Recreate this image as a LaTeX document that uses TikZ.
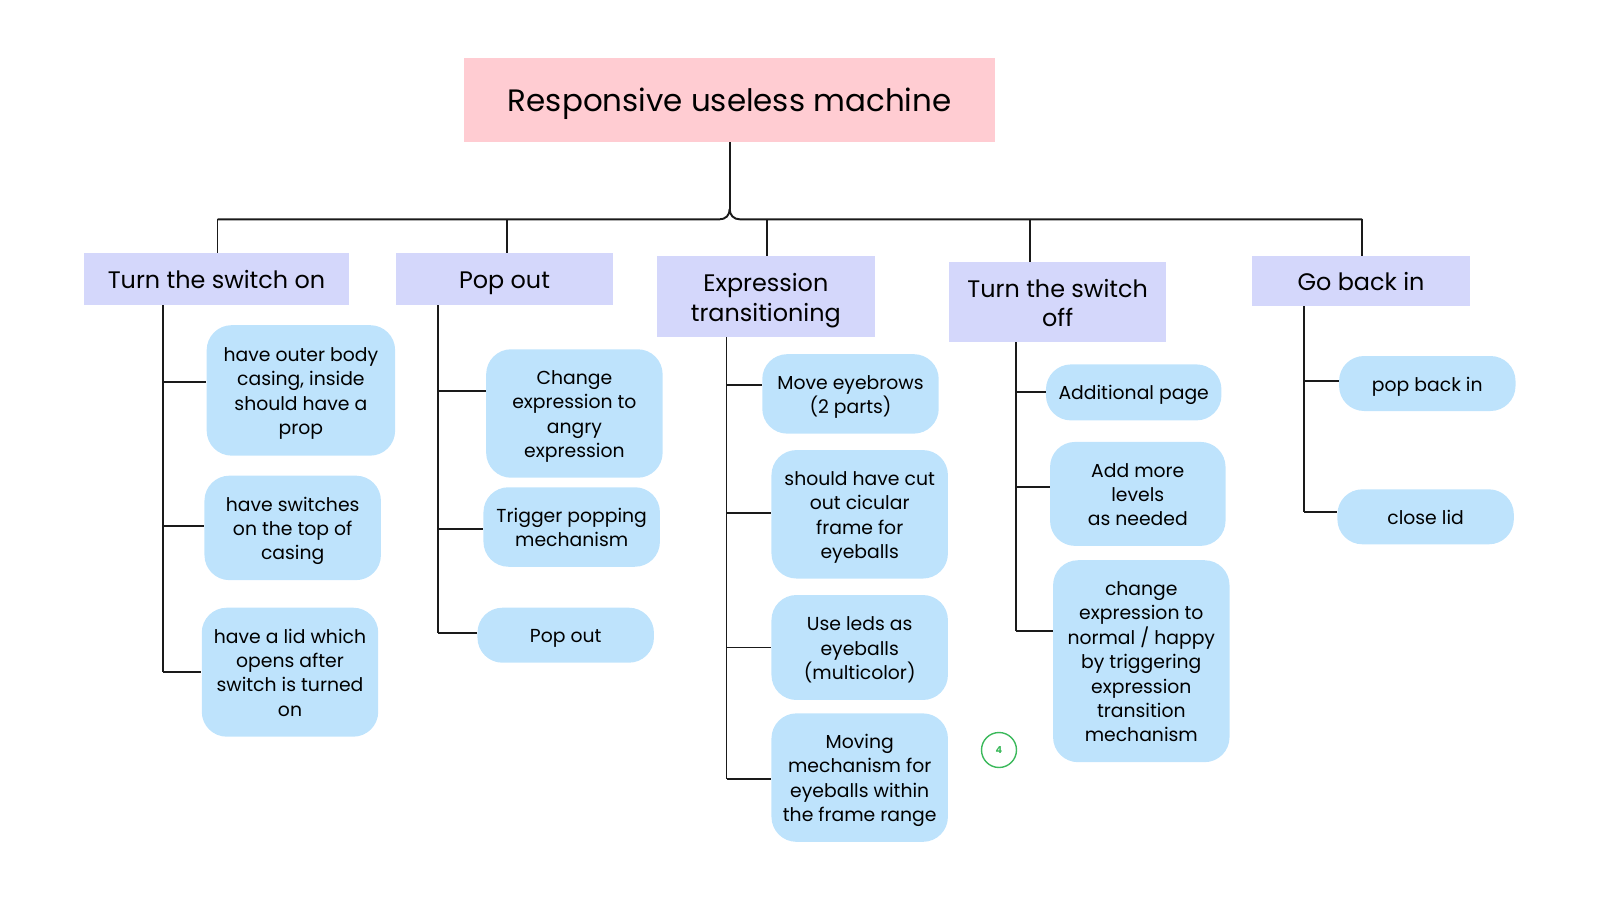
\documentclass[tikz,border=0pt]{standalone}
\usepackage{fontspec}
\setmainfont{Poppins}
\usetikzlibrary{calc}
\definecolor{titlepink}{HTML}{FFCCD2}
\definecolor{headlav}{HTML}{D4D7FB}
\definecolor{childblue}{HTML}{BEE3FC}
\definecolor{markgreen}{HTML}{3CB95C}
\definecolor{linecol}{HTML}{1A1A1A}
\def\tsh{1.12em}
\newcommand\topstr{\rule{0pt}{\tsh}}
\newcommand\botstr{\rule[-0.32em]{0pt}{0pt}}
\begin{document}
\begin{tikzpicture}[x=0.02cm,y=-0.02cm,
  titlebox/.style={fill=titlepink, minimum width=10.62cm, minimum height=1.68cm, inner sep=0, font=\fontsize{17.6}{20}\selectfont,
    execute at begin node={\def\tsh{1.09em}}},
  headbox/.style={fill=headlav, minimum width=4.35cm, inner sep=0, align=center, font=\fontsize{13.6}{16.8}\selectfont,
    execute at begin node={\def\tsh{1.15em}}},
  leafbox/.style={fill=childblue, rounded corners=0.5cm, minimum width=3.53cm, inner sep=0, align=center, font=\fontsize{10.7}{13.9}\selectfont,
    execute at begin node={\def\tsh{1.12em}}},
  link/.style={draw=linecol, line width=1.1pt},
  badge/.style={circle, draw=markgreen, line width=0.8pt, minimum size=0.7cm, inner sep=0, text=markgreen, font=\fontsize{5.5}{6}\selectfont\bfseries}
]
\useasboundingbox (0,0) rectangle (1600,900);

% root
\node[titlebox] (root) at (729.7,100) {\topstr Responsive useless machine\botstr};

% headers
\node[headbox, minimum width=5.3cm, minimum height=1.04cm] (h1) at (216.5,279) {\topstr Turn the switch on\botstr};
\node[headbox, minimum height=1.03cm] (h2) at (504.5,279) {\topstr Pop out\botstr};
\node[headbox, minimum height=1.61cm] (h3) at (765.8,296.4) {\topstr Expression\\transitioning\botstr};
\node[headbox, minimum height=1.59cm] (h4) at (1057.7,302) {\topstr Turn the switch\\off\botstr};
\node[headbox, minimum height=1.0cm] (h5) at (1361,281) {\topstr Go back in\botstr};

% bus
\coordinate (d1) at (217.5,219.4);
\coordinate (d2) at (507.3,219.4);
\coordinate (d3) at (767.3,219.4);
\coordinate (d4) at (1029.6,219.4);
\coordinate (d5) at (1362.2,219.4);
\coordinate (jl) at (719,219.4);
\coordinate (jr) at (740.4,219.4);
\coordinate (jt) at (729.7,209);
\draw[link] (root.south) -- (jt);
\draw[link] (d1) -- (jl) .. controls (726,219.4) and (729.7,215) .. (jt);
\draw[link] (jt) .. controls (729.7,215) and (733.4,219.4) .. (jr) -- (d5);
\foreach \i in {1,...,5} {\draw[link] (d\i) -- (d\i |- h\i.north);}

% leaves column 1
\node[leafbox, minimum width=3.77cm, minimum height=2.61cm] (l11) at (300.9,390.4) {\topstr have outer body\\casing, inside\\should have a\\prop\botstr};
\node[leafbox, minimum height=2.09cm] (l12) at (292.7,527.9) {\topstr have switches\\on the top of\\casing\botstr};
\node[leafbox, minimum height=2.58cm] (l13) at (290,672.2) {\topstr have a lid which\\opens after\\switch is turned\\on\botstr};

% leaves column 2
\node[leafbox, minimum height=2.57cm] (l21) at (574.4,413.5) {\topstr Change\\expression to\\angry\\expression\botstr};
\node[leafbox, minimum height=1.59cm] (l22) at (571.7,527) {\topstr Trigger popping\\mechanism\botstr};
\node[leafbox, minimum height=1.1cm] (l23) at (565.7,635.2) {\topstr Pop out\botstr};

% leaves column 3
\node[leafbox, minimum height=1.59cm] (l31) at (850.5,393.9) {\topstr Move eyebrows\\(2 parts)\botstr};
\node[leafbox, minimum height=2.57cm] (l32) at (859.7,514.3) {\topstr should have cut\\out cicular\\frame for\\eyeballs\botstr};
\node[leafbox, minimum height=2.1cm] (l33) at (859.7,647.5) {\topstr Use leds as\\eyeballs\\(multicolor)\botstr};
\node[leafbox, minimum height=2.57cm] (l34) at (859.7,777.6) {\topstr Moving\\mechanism for\\eyeballs within\\the frame range\botstr};

% leaves column 4
\node[leafbox, minimum width=3.51cm, minimum height=1.12cm] (l41) at (1133.7,392.4) {\topstr Additional page\botstr};
\node[leafbox, minimum width=3.51cm, minimum height=2.08cm] (l42) at (1137.8,493.9) {\topstr Add more\\levels\\as needed\botstr};
\node[leafbox, minimum height=4.04cm] (l43) at (1141.3,661.2) {\topstr change\\expression to\\normal / happy\\by triggering\\expression\\transition\\mechanism\botstr};

% leaves column 5
\node[leafbox, minimum height=1.1cm] (l51) at (1427.3,383.5) {\topstr pop back in\botstr};
\node[leafbox, minimum height=1.1cm] (l52) at (1425.6,516.8) {\topstr close lid\botstr};

% badge
\node[badge] (mark) at (999,750) {4};

% spines
\coordinate (s1) at (162.7,305);
\coordinate (s2) at (438.3,305);
\coordinate (s3) at (726.5,337);
\coordinate (s4) at (1016,342);
\coordinate (s5) at (1304.3,306);

% branch points
\path (l11.west) ++(0,-8.1) coordinate (b11);
\path (l12.west) ++(0,-1.9) coordinate (b12);
\path (l13.west) coordinate (b13);
\path (l21.west) ++(0,-22.8) coordinate (b21);
\path (l22.west) ++(0,1.7) coordinate (b22);
\path (l23.west) ++(0,-1.9) coordinate (b23);
\path (l31.west) ++(0,-9.2) coordinate (b31);
\path (l32.west) ++(0,-1) coordinate (b32);
\path (l33.west) coordinate (b33);
\path (l34.west) ++(0,1) coordinate (b34);
\path (l41.west) coordinate (b41);
\path (l42.west) ++(0,-7.2) coordinate (b42);
\path (l43.west) ++(0,-30.6) coordinate (b43);
\path (l51.west) ++(0,-2.8) coordinate (b51);
\path (l52.west) ++(0,-4.6) coordinate (b52);

\draw[link] (h1.south -| s1) -- (s1 |- b13);
\draw[link] (h2.south -| s2) -- (s2 |- b23);
\draw[link] (h3.south -| s3) -- (s3 |- b34);
\draw[link] (h4.south -| s4) -- (s4 |- b43);
\draw[link] (h5.south -| s5) -- (s5 |- b52);

\foreach \b in {11,12,13} {\draw[link] (b\b -| s1) -- (b\b);}
\foreach \b in {21,22,23} {\draw[link] (b\b -| s2) -- (b\b);}
\foreach \b in {31,32,33,34} {\draw[link] (b\b -| s3) -- (b\b);}
\foreach \b in {41,42,43} {\draw[link] (b\b -| s4) -- (b\b);}
\foreach \b in {51,52} {\draw[link] (b\b -| s5) -- (b\b);}
\end{tikzpicture}
\end{document}
